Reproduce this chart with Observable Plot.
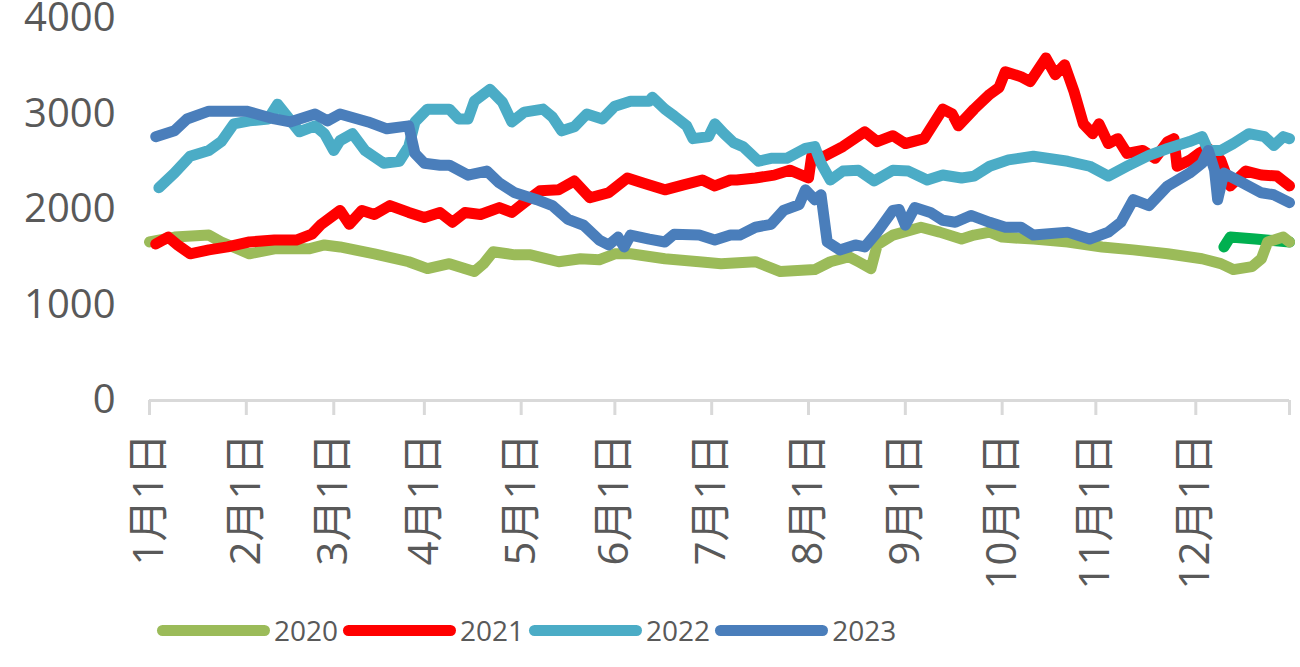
<!DOCTYPE html>
<html>
<head>
<meta charset="utf-8">
<script src="https://cdn.jsdelivr.net/npm/d3@7"></script>
<script src="https://cdn.jsdelivr.net/npm/@observablehq/plot@0.6"></script>
<style>
  body { margin: 0; background: #fff; }
  #chart { position: absolute; left: 0; top: 0; }
  #legend { position: absolute; left: 157px; top: 610px; height: 40px; display: flex; align-items: center;
            font-family: "Open Sans", sans-serif; font-size: 28px; color: #595959; }
  .sw { width: 113px; height: 11px; border-radius: 6px; margin-right: 4px; }
  .lt { margin-right: 5px; line-height: 40px; }
</style>
</head>
<body>
<div id="chart"></div>
<div id="legend"></div>
<script>
// ---- data (trading-day position in year, value) ----
const seriesNames = ["2020", "2021", "2022", "2023"];
const seriesColors = ["#9BBB59", "#FF0000", "#4BACC6", "#4A7EBB"];
const extraColor = "#00B050";

// category tick positions
const monthTicks = [0, 31, 59, 88, 119, 149, 180, 211, 242, 273, 303, 335];
const monthLabels = ["1月1日", "2月1日", "3月1日", "4月1日", "5月1日", "6月1日", "7月1日", "8月1日", "9月1日", "10月1日", "11月1日", "12月1日"];
const yearEnd = 365;
const yTicks = [0, 1000, 2000, 3000, 4000];

const days2020 = [0,8,19,23,32,40,51,56,61,72,83,89,96,104,107,110,117,122,131,138,144,149,154,165,176,183,194,202,213,218,224,227,231,233,238,247,253,260,264,269,273,283,294,305,315,326,337,343,347,353,356,358,363,365];
const values2020 = [1660,1711,1732,1660,1536,1588,1588,1629,1608,1536,1453,1381,1433,1350,1433,1557,1525,1525,1453,1484,1474,1536,1536,1484,1453,1433,1453,1350,1371,1453,1505,1453,1381,1629,1732,1814,1763,1690,1732,1763,1711,1690,1660,1608,1577,1536,1484,1433,1371,1402,1484,1660,1711,1660];

const days2021 = [2,6,9,13,19,25,32,40,47,52,55,61,64,68,72,77,83,88,93,97,101,106,112,116,120,125,131,136,141,147,153,158,165,171,177,181,186,188,194,200,205,211,212,216,222,229,233,238,242,248,254,257,259,264,269,272,274,279,282,287,290,293,296,299,302,304,307,310,313,318,322,326,328,329,333,336,339,343,346,351,356,361,365];
const values2021 = [1639,1711,1629,1536,1577,1608,1660,1680,1680,1742,1845,1990,1845,1990,1948,2041,1969,1917,1969,1866,1969,1948,2020,1969,2072,2196,2206,2299,2123,2175,2330,2278,2206,2258,2309,2247,2309,2309,2330,2360,2412,2330,2557,2557,2659,2814,2711,2773,2690,2742,3051,3000,2876,3051,3206,3278,3443,3391,3340,3587,3412,3515,3237,2897,2794,2897,2690,2742,2587,2618,2536,2711,2742,2453,2515,2587,2639,2515,2247,2402,2361,2350,2247];

const days2022 = [3,8,13,19,23,27,32,38,41,44,48,53,56,59,61,65,69,75,80,83,85,89,96,99,102,104,109,113,116,120,126,129,132,136,140,145,149,154,160,161,165,168,172,174,179,181,184,187,190,195,199,204,210,213,215,218,222,227,232,238,243,249,254,260,264,269,275,283,294,301,307,313,320,326,333,337,339,343,347,352,357,360,363,365];
const values2022 = [2227,2381,2557,2618,2711,2897,2928,2948,3103,2979,2814,2876,2794,2618,2721,2794,2618,2484,2505,2659,2917,3051,3051,2948,2948,3134,3258,3124,2917,3020,3051,2969,2824,2866,3000,2948,3082,3134,3134,3175,3051,2979,2876,2742,2763,2897,2794,2700,2659,2505,2536,2536,2639,2659,2484,2309,2402,2412,2299,2412,2402,2309,2361,2330,2350,2453,2520,2557,2505,2453,2350,2453,2567,2639,2711,2763,2618,2618,2690,2794,2763,2670,2763,2742];

const days2023 = [2,8,12,19,31,40,45,53,57,61,70,76,83,85,88,93,96,102,108,112,117,124,129,134,139,144,147,150,152,154,160,165,168,176,181,186,189,194,199,203,208,210,213,215,217,221,226,229,233,238,240,242,245,250,254,258,263,269,274,279,283,294,301,307,311,315,320,326,333,337,339,341,342,344,350,356,360,365];
const values2023 = [2763,2825,2948,3030,3030,2948,2917,3000,2928,3000,2917,2845,2876,2587,2484,2464,2464,2360,2402,2278,2175,2103,2041,1897,1835,1680,1629,1711,1608,1732,1690,1660,1742,1732,1680,1732,1732,1814,1845,1990,2051,2206,2103,2154,1660,1577,1629,1608,1763,1990,2000,1835,2020,1969,1887,1866,1938,1866,1814,1814,1732,1763,1690,1763,1866,2103,2041,2247,2381,2484,2618,2412,2103,2381,2278,2175,2154,2072];

// unlabelled partial series (bright green, not in legend)
const daysExtra = [344,346,354,365];
const valuesExtra = [1608,1711,1690,1660];

// ---- build ----
const toRows = (days, values) => days.map((d, i) => ({day: d, value: values[i]}));
const seriesData = [
  toRows(days2020, values2020),
  toRows(days2021, values2021),
  toRows(days2022, values2022),
  toRows(days2023, values2023)
];
const extraData = toRows(daysExtra, valuesExtra);

const labelMap = new Map(monthTicks.map((d, i) => [d, monthLabels[i]]));
const lineOpts = {strokeWidth: 11, strokeLinejoin: "round", strokeLinecap: "round"};

const chart = Plot.plot({
  width: 1300,
  height: 605,
  marginLeft: 149,
  marginRight: 11,
  marginTop: 18,
  marginBottom: 205,
  x: {domain: [0, yearEnd], axis: null, label: null},
  y: {domain: [0, 4000], axis: null, label: null},
  style: {fontFamily: "'Open Sans', 'Noto Sans CJK SC', sans-serif", color: "#595959", background: "#fff", overflow: "visible"},
  marks: [
    Plot.axisY(yTicks, {tickSize: 0, tickPadding: 34, fontSize: 40, label: null, tickFormat: d => String(d)}),
    Plot.ruleY([0], {stroke: "#d9d9d9", strokeWidth: 3}),
    Plot.axisX([...monthTicks, yearEnd], {tickSize: 15, tickPadding: 18, tickRotate: -90, fontSize: 42, label: null,
      stroke: "#d9d9d9", strokeWidth: 3, tickFormat: d => labelMap.get(d) ?? ""}),
    Plot.line(extraData, {x: "day", y: "value", stroke: extraColor, ...lineOpts}),
    ...seriesData.map((rows, i) => Plot.line(rows, {x: "day", y: "value", stroke: seriesColors[i], ...lineOpts}))
  ]
});
document.getElementById("chart").appendChild(chart);

const legend = document.getElementById("legend");
seriesNames.forEach((name, i) => {
  const sw = document.createElement("div");
  sw.className = "sw";
  sw.style.background = seriesColors[i];
  const t = document.createElement("span");
  t.className = "lt";
  t.textContent = name;
  legend.appendChild(sw);
  legend.appendChild(t);
});
</script>
</body>
</html>
